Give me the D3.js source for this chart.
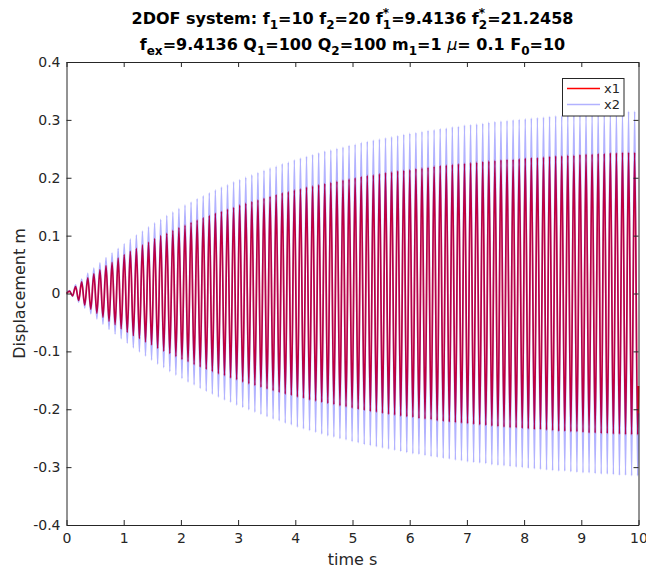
<!DOCTYPE html>
<html>
<head>
<meta charset="utf-8">
<script src="https://cdn.jsdelivr.net/npm/d3@7"></script>
<style>
  html, body { margin: 0; padding: 0; background: #fff; }
  svg { display: block; font-family: "DejaVu Sans", sans-serif; }
</style>
</head>
<body>
<svg id="chart" width="646" height="569"></svg>
<script>
// Excitation frequency (Hz) of the forced 2DOF response
const fex = 9.4136;

// Axis ranges and ticks
const xDomain = [0, 10];
const yDomain = [-0.4, 0.4];
const xTicks = [0, 1, 2, 3, 4, 5, 6, 7, 8, 9, 10];
const yTicks = [0.4, 0.3, 0.2, 0.1, 0, -0.1, -0.2, -0.3, -0.4];
const yTickLabels = ["0.4", "0.3", "0.2", "0.1", "0", "-0.1", "-0.2", "-0.3", "-0.4"];

// Amplitude of each excitation cycle (m): mass 1 (x1)
const x1Amp = [
  0.004, 0.012, 0.020, 0.027, 0.034, 0.041, 0.048, 0.054, 0.061, 0.067,
  0.073, 0.078, 0.084, 0.089, 0.095, 0.100, 0.104, 0.109, 0.114, 0.118,
  0.123, 0.127, 0.131, 0.135, 0.139, 0.142, 0.146, 0.149, 0.153, 0.156,
  0.159, 0.162, 0.165, 0.168, 0.171, 0.174, 0.176, 0.179, 0.181, 0.184,
  0.186, 0.188, 0.190, 0.192, 0.194, 0.196, 0.198, 0.200, 0.202, 0.204,
  0.205, 0.207, 0.209, 0.210, 0.212, 0.213, 0.214, 0.216, 0.217, 0.218,
  0.220, 0.221, 0.222, 0.223, 0.224, 0.225, 0.226, 0.227, 0.228, 0.229,
  0.230, 0.231, 0.232, 0.232, 0.233, 0.234, 0.235, 0.235, 0.236, 0.237,
  0.238, 0.238, 0.239, 0.239, 0.240, 0.241, 0.241, 0.242, 0.242, 0.243,
  0.243, 0.244, 0.244, 0.244
];

// Amplitude of each excitation cycle (m): mass 2 (x2)
const x2Amp = [
  0.005, 0.015, 0.025, 0.035, 0.044, 0.053, 0.062, 0.070, 0.078, 0.086,
  0.094, 0.101, 0.108, 0.115, 0.122, 0.128, 0.135, 0.141, 0.147, 0.153,
  0.158, 0.164, 0.169, 0.174, 0.179, 0.184, 0.188, 0.193, 0.197, 0.201,
  0.205, 0.209, 0.213, 0.217, 0.220, 0.224, 0.227, 0.231, 0.234, 0.237,
  0.240, 0.243, 0.246, 0.248, 0.251, 0.253, 0.256, 0.258, 0.261, 0.263,
  0.265, 0.267, 0.269, 0.271, 0.273, 0.275, 0.277, 0.278, 0.280, 0.282,
  0.283, 0.285, 0.286, 0.288, 0.289, 0.291, 0.292, 0.293, 0.294, 0.296,
  0.297, 0.298, 0.299, 0.300, 0.301, 0.302, 0.303, 0.304, 0.305, 0.306,
  0.307, 0.307, 0.308, 0.309, 0.310, 0.310, 0.311, 0.312, 0.312, 0.313,
  0.314, 0.314, 0.315, 0.315
];

// Displacements at rest (t = 0) and at the end of the record (t = 10 s)
const x1Start = 0, x2Start = 0;
const x1End = -0.160, x2End = -0.207;

const seriesNames = ["x1", "x2"];
const seriesColors = ["#ff0000", "#0000ff"];
const seriesOpacity = [1, 0.3];

// Build the time history: start at rest, then peak and trough of every cycle
function history(amp, start, end) {
  const pts = [{ t: 0, v: start }];
  amp.forEach((a, k) => {
    pts.push({ t: (k + 0.5) / fex, v: a });
    pts.push({ t: (k + 1) / fex, v: -a });
  });
  pts.push({ t: xDomain[1], v: end });
  return pts;
}

const svg = d3.select("#chart");
const plot = { left: 66.5, right: 638.5, top: 62, bottom: 525 };
const x = d3.scaleLinear(xDomain, [plot.left, plot.right]);
const y = d3.scaleLinear(yDomain, [plot.bottom, plot.top]);
const axisColor = "#262626";

const line = d3.line().x(d => x(d.t)).y(d => y(d.v)).curve(d3.curveMonotoneX);

// Series: x1 underneath, translucent x2 on top
[[x1Amp, x1Start, x1End], [x2Amp, x2Start, x2End]].forEach((s, i) => {
  svg.append("path")
    .datum(history(s[0], s[1], s[2]))
    .attr("d", line)
    .attr("fill", "none")
    .attr("stroke", seriesColors[i])
    .attr("stroke-opacity", seriesOpacity[i])
    .attr("stroke-width", 1.7);
});

// Axes (inward ticks on all four sides)
function styleAxis(g) {
  g.selectAll(".domain").attr("stroke", axisColor).attr("stroke-width", 1);
  g.selectAll(".tick line").attr("stroke", axisColor).attr("stroke-width", 1);
  g.selectAll("text").attr("fill", axisColor).attr("font-size", 14)
    .attr("font-family", "DejaVu Sans, sans-serif");
}

svg.append("g")
  .attr("transform", `translate(0,${plot.bottom})`)
  .call(d3.axisBottom(x).tickValues(xTicks).tickFormat(d3.format("d"))
    .tickSizeInner(-5).tickSizeOuter(0).tickPadding(8))
  .call(styleAxis);

svg.append("g")
  .attr("transform", `translate(0,${plot.top})`)
  .call(d3.axisTop(x).tickValues(xTicks).tickFormat("")
    .tickSizeInner(-5).tickSizeOuter(0))
  .call(styleAxis);

svg.append("g")
  .attr("transform", `translate(${plot.left},0)`)
  .call(d3.axisLeft(y).tickValues(yTicks).tickFormat((d, i) => yTickLabels[i])
    .tickSizeInner(-5).tickSizeOuter(0).tickPadding(6))
  .call(styleAxis);

svg.append("g")
  .attr("transform", `translate(${plot.right},0)`)
  .call(d3.axisRight(y).tickValues(yTicks).tickFormat("")
    .tickSizeInner(-5).tickSizeOuter(0))
  .call(styleAxis);

// Axis labels
svg.append("text")
  .attr("x", (plot.left + plot.right) / 2)
  .attr("y", 565)
  .attr("text-anchor", "middle")
  .attr("font-size", 16)
  .attr("fill", axisColor)
  .text("time s");

svg.append("text")
  .attr("transform", `translate(25,${(plot.top + plot.bottom) / 2}) rotate(-90)`)
  .attr("text-anchor", "middle")
  .attr("font-size", 16)
  .attr("fill", axisColor)
  .text("Displacement m");

// Title with sub/superscripts
const titleSize = 16, subSize = 12;
const titleLines = [
  [["2DOF system: f"], ["1", "sub"], ["=10 f"], ["2", "sub"], ["=20 f"], ["1", "subsup", "*"],
   ["=9.4136 f"], ["2", "subsup", "*"], ["=21.2458"]],
  [["f"], ["ex", "sub"], ["=9.4136 Q"], ["1", "sub"], ["=100 Q"], ["2", "sub"], ["=100 m"],
   ["1", "sub"], ["=1\u00a0"], ["\u03bc", "it"], ["=\u00a00.1 F"], ["0", "sub"], ["=10"]]
];
const titleBaselines = [24, 50];

const measure = svg.append("text").attr("visibility", "hidden").attr("font-weight", "bold");
function textWidth(str, size, italic) {
  measure.attr("font-size", size).attr("font-style", italic ? "italic" : "normal")
    .attr("font-weight", italic ? "normal" : "bold").text(str);
  return measure.node().getComputedTextLength();
}

titleLines.forEach((segs, li) => {
  const parts = segs.map(s => {
    const kind = s[1] || "";
    const size = (kind === "sub" || kind === "subsup") ? subSize : titleSize;
    const w = textWidth(s[0], size, kind === "it");
    return { s, kind, size, w };
  });
  const total = d3.sum(parts, p => p.w);
  let cx = (plot.left + plot.right) / 2 - total / 2;
  const base = titleBaselines[li];
  const t = svg.append("text").attr("font-weight", "bold").attr("fill", "#000");
  parts.forEach(p => {
    const span = t.append("tspan").attr("x", cx).attr("font-size", p.size).text(p.s[0]);
    if (p.kind === "sub" || p.kind === "subsup") span.attr("y", base + 5);
    else span.attr("y", base);
    if (p.kind === "it") span.attr("font-style", "italic").attr("font-weight", "normal");
    if (p.kind === "subsup") {
      t.append("tspan").attr("x", cx).attr("y", base - 7).attr("font-size", subSize).text(p.s[2]);
    }
    cx += p.w;
  });
});
measure.remove();

// Legend
const lg = svg.append("g");
lg.append("rect")
  .attr("x", 562.5).attr("y", 78.5).attr("width", 61.5).attr("height", 37.5)
  .attr("fill", "#fff").attr("stroke", axisColor).attr("stroke-width", 1);
seriesNames.forEach((name, i) => {
  const ly = 88.5 + i * 16;
  lg.append("line")
    .attr("x1", 567).attr("x2", 600).attr("y1", ly).attr("y2", ly)
    .attr("stroke", seriesColors[i])
    .attr("stroke-opacity", seriesOpacity[i])
    .attr("stroke-width", 1.5);
  lg.append("text")
    .attr("x", 604).attr("y", ly + 4.5)
    .attr("font-size", 13).attr("fill", axisColor)
    .text(name);
});
</script>
</body>
</html>
